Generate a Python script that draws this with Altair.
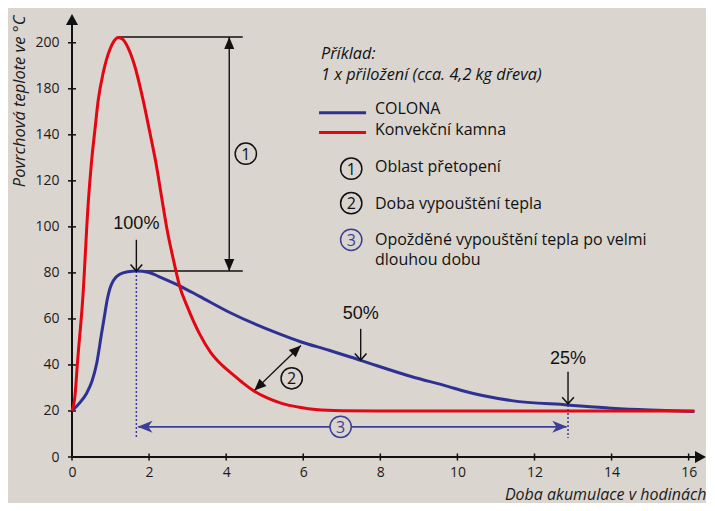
import altair as alt
import pandas as pd

# ---------------- colours / fonts ----------------
BG = "#dad5cf"
BLUE = "#2e3192"
RED = "#e30613"
ABLUE = "#3d3f94"
INK = "#111111"
FONT = "Open Sans"

# ---------------- data ----------------
# y is in the drawn (positional) units; the original axis labels 160/180 read "180"/"200"
red_x = [0, 0.08, 0.14, 0.28, 0.42, 0.50, 0.60, 0.68, 0.81, 0.90, 0.98, 1.08, 1.20, 1.32, 1.45,
         1.63, 1.84, 2.02, 2.19, 2.33, 2.47, 2.62, 2.79, 3.00, 3.31, 3.60, 3.90, 4.17, 4.45,
         4.73, 5.05, 5.46, 5.90, 6.32, 7.00, 8.00, 10.00, 12.00, 14.00, 16.15]
red_y = [20, 27, 40.6, 69, 110, 127, 143, 155, 167, 173, 177, 180.5, 182.3, 181.5, 178,
         169.8, 155.5, 141, 126.7, 112.4, 98.5, 86.6, 74.4, 65, 53.5, 45.4, 39.8, 35.9, 32.0,
         28.6, 25.8, 23.2, 21.6, 20.6, 20.1, 20, 20, 20, 20, 20]

blue_x = [0, 0.20, 0.38, 0.52, 0.64, 0.77, 0.84, 0.91, 0.98, 1.08, 1.24, 1.45, 1.67, 2.00, 2.27,
          2.79, 3.31, 4.08, 5.38, 5.93, 6.67, 7.49, 8.82, 9.77, 10.11, 11.41, 12.87, 14.00, 15.00,
          16.15]
blue_y = [20, 23.5, 27.7, 33, 40.6, 54, 61, 68, 73, 76.8, 79.4, 80.5, 80.8, 80.2, 78.3,
          74.4, 69.8, 62.9, 53.5, 50.1, 46.4, 42.0, 34.9, 30.6, 28.9, 24.5, 22.6, 21.2, 20.4,
          19.8]

x_ticks = [0, 2, 4, 6, 8, 10, 12, 14, 16]
y_ticks = [0, 20, 40, 60, 80, 100, 120, 140, 160, 180]

series_names = ["COLONA", "Konvekční kamna"]
series_colors = [BLUE, RED]

X_MAX = 16.45
Y_MAX = 192.5

# annotation geometry (data units)
black_rules = pd.DataFrame({
    "x":  [1.20, 1.67, 4.08, 1.67, 7.49, 12.87, 4.73],
    "y":  [182.5, 80.8, 80.8, 94.4, 55.7, 37.0, 28.85],
    "x2": [4.43, 4.43, 4.08, 1.67, 7.49, 12.87, 5.94],
    "y2": [182.5, 80.8, 182.5, 80.8, 42.1, 23.1, 48.5],
})
axis_rules = pd.DataFrame({"x": [0, 0], "y": [0, 0], "x2": [X_MAX - 0.1, 0], "y2": [0, Y_MAX - 1]})
dotted_rules = pd.DataFrame({"x": [1.67, 12.87], "y": [80.8, 22.6], "x2": [1.67, 12.87], "y2": [8.3, 8.3]})
blue_arrow = pd.DataFrame({"x": [1.72], "y": [13.1], "x2": [12.83], "y2": [13.1]})

filled_heads = pd.DataFrame({"x": [4.08, 4.08, 5.94, 4.73], "y": [182.5, 80.8, 48.5, 28.85],
                             "angle": [0, 180, 46, 226]})
axis_heads = pd.DataFrame({"x": [0, X_MAX], "y": [Y_MAX, 0], "angle": [0, 90]})
open_heads = pd.DataFrame({"x": [1.67, 7.49, 12.87], "y": [80.8, 42.1, 23.1], "angle": [0, 0, 0]})
barb_heads = pd.DataFrame({"x": [1.70, 12.85], "y": [13.1, 13.1], "angle": [270, 90]})

circles = pd.DataFrame({
    "x": [4.51, 5.70, 6.97, 7.245, 7.245, 7.245],
    "y": [131.8, 34.2, 13.1, 125.3, 110.3, 94.4],
    "num": ["1", "2", "3", "1", "2", "3"],
    "col": [INK, INK, ABLUE, INK, INK, ABLUE],
})

pct = pd.DataFrame({"x": [1.67, 7.49, 12.87], "y": [101.4, 62.1, 42.8], "t": ["100%", "50%", "25%"]})

note = pd.DataFrame({"x": [6.46, 6.46], "y": [175.0, 166.2],
                     "t": ["Příklad:", "1 x přiložení (cca. 4,2 kg dřeva)"]})

legend_lines = pd.DataFrame({"x": [6.41, 6.41], "x2": [7.63, 7.63], "y": [149.6, 141.0],
                             "series": series_names})
legend_text = pd.DataFrame({"x": [7.86, 7.86], "y": [151.2, 142.2], "t": series_names})

key_text = pd.DataFrame({
    "x": [7.86, 7.86, 7.86, 7.86],
    "y": [126.0, 110.0, 94.2, 85.6],
    "t": ["Oblast přetopení", "Doba vypouštění tepla",
          "Opožděné vypouštění tepla po velmi", "dlouhou dobu"],
})

curves = pd.DataFrame({
    "x": blue_x + red_x,
    "y": blue_y + red_y,
    "series": [series_names[0]] * len(blue_x) + [series_names[1]] * len(red_x),
})

# ---------------- scales / axes ----------------
x_scale = alt.Scale(domain=[0, X_MAX], nice=False, zero=False)
y_scale = alt.Scale(domain=[0, Y_MAX], nice=False, zero=False)

x_axis = alt.Axis(values=x_ticks, domain=False, ticks=False, grid=False, labelFlush=False,
                  labelFont=FONT, labelFontSize=14, labelColor="#1a1a1a", labelPadding=8,
                  title="Doba akumulace v hodinách", titleFont=FONT, titleFontSize=16,
                  titleFontStyle="italic", titleFontWeight="normal", titleColor="#1a1a1a",
                  titleX=634, titleY=42, titleAlign="right", titleBaseline="alphabetic")
y_axis = alt.Axis(values=y_ticks, domain=False, ticks=False, grid=False, labelFlush=False,
                  labelExpr="datum.value == 160 ? '180' : (datum.value == 180 ? '200' : datum.label)",
                  labelFont=FONT, labelFontSize=14, labelColor="#1a1a1a", labelPadding=13,
                  title="Povrchová teplote ve °C", titleFont=FONT, titleFontSize=16.5,
                  titleFontStyle="italic", titleFontWeight="normal", titleColor="#1a1a1a",
                  titleAngle=270, titleX=-53, titleY=1, titleAlign="right", titleBaseline="middle")


def X(f="x"):
    return alt.X(f + ":Q", scale=x_scale, axis=x_axis)


def Y(f="y"):
    return alt.Y(f + ":Q", scale=y_scale, axis=y_axis)


color_scale = alt.Scale(domain=series_names, range=series_colors)

UP_TRI = "M0,0L-0.42,1L0.42,1Z"
AXIS_TRI = "M0,0L-0.55,1L0.55,1Z"
BARB = "M0,0L-0.4,1L0,0.72L0.4,1Z"
VHEAD = "M-0.9,-1L0,0L0.9,-1"

layers = []

# dotted blue guides
layers.append(alt.Chart(dotted_rules).mark_rule(color=ABLUE, strokeWidth=1.5, strokeDash=[2, 2])
              .encode(x=X(), y=Y(), x2="x2:Q", y2="y2:Q"))
# black annotation lines
layers.append(alt.Chart(black_rules).mark_rule(color=INK, strokeWidth=1.4)
              .encode(x=X(), y=Y(), x2="x2:Q", y2="y2:Q"))
# axis lines
layers.append(alt.Chart(axis_rules).mark_rule(color=INK, strokeWidth=2)
              .encode(x=X(), y=Y(), x2="x2:Q", y2="y2:Q"))
# ticks (crossing the axes)
layers.append(alt.Chart(pd.DataFrame({"x": x_ticks, "y": [0] * len(x_ticks)}))
              .mark_tick(orient="vertical", size=7, thickness=1.5, color=INK, opacity=1)
              .encode(x=X(), y=Y()))
layers.append(alt.Chart(pd.DataFrame({"x": [0] * len(y_ticks), "y": y_ticks}))
              .mark_tick(orient="horizontal", size=8, thickness=1.5, color=INK, opacity=1)
              .encode(x=X(), y=Y()))
# curves
for name in series_names:
    layers.append(alt.Chart(curves[curves.series == name])
                  .mark_line(strokeWidth=3, interpolate="monotone")
                  .encode(x=X(), y=Y(), color=alt.Color("series:N", scale=color_scale, legend=None)))
# blue horizontal arrow line
layers.append(alt.Chart(blue_arrow).mark_rule(color=ABLUE, strokeWidth=1.6)
              .encode(x=X(), y=Y(), x2="x2:Q", y2="y2:Q"))
# arrow heads
layers.append(alt.Chart(filled_heads).mark_point(shape=UP_TRI, size=576, filled=True, color=INK,
                                                 opacity=1, strokeWidth=0)
              .encode(x=X(), y=Y(), angle=alt.Angle("angle:Q", scale=None)))
layers.append(alt.Chart(axis_heads).mark_point(shape=AXIS_TRI, size=484, filled=True, color=INK,
                                               opacity=1, strokeWidth=0)
              .encode(x=X(), y=Y(), angle=alt.Angle("angle:Q", scale=None)))
layers.append(alt.Chart(barb_heads).mark_point(shape=BARB, size=900, filled=True, color=ABLUE,
                                               opacity=1, strokeWidth=0)
              .encode(x=X(), y=Y(), angle=alt.Angle("angle:Q", scale=None)))
layers.append(alt.Chart(open_heads).mark_point(shape=VHEAD, size=169, filled=False, color=INK,
                                               opacity=1, strokeWidth=1.5)
              .encode(x=X(), y=Y(), angle=alt.Angle("angle:Q", scale=None)))
# numbered circles
layers.append(alt.Chart(circles).mark_point(shape="circle", size=452, filled=True, fill=BG,
                                            opacity=1, strokeWidth=1.5)
              .encode(x=X(), y=Y(), stroke=alt.Stroke("col:N", scale=None)))
layers.append(alt.Chart(circles).mark_text(font=FONT, fontSize=16, baseline="middle", align="center", dy=1)
              .encode(x=X(), y=Y(), text="num:N", color=alt.Color("col:N", scale=None)))
# legend lines and labels
layers.append(alt.Chart(legend_lines).mark_rule(strokeWidth=3)
              .encode(x=X(), y=Y(), x2="x2:Q",
                      color=alt.Color("series:N", scale=color_scale, legend=None)))
layers.append(alt.Chart(legend_text).mark_text(font=FONT, fontSize=16, align="left", baseline="middle",
                                               color=INK)
              .encode(x=X(), y=Y(), text="t:N"))
layers.append(alt.Chart(key_text).mark_text(font=FONT, fontSize=16, align="left", baseline="middle",
                                            color=INK)
              .encode(x=X(), y=Y(), text="t:N"))
layers.append(alt.Chart(note).mark_text(font=FONT, fontSize=16.3, fontStyle="italic", align="left",
                                        baseline="middle", color=INK)
              .encode(x=X(), y=Y(), text="t:N"))
layers.append(alt.Chart(pct).mark_text(font="Liberation Sans", fontSize=18, align="center",
                                       baseline="middle", color=INK)
              .encode(x=X(), y=Y(), text="t:N"))

chart = (
    alt.layer(*layers)
    .properties(width=634, height=443, background=BG,
                padding={"left": 64, "top": 6, "right": 0, "bottom": 46},
                autosize=alt.AutoSizeParams(type="none"))
    .configure_view(stroke=None)
)

chart.save("out.html", embed_options={"renderer": "svg", "actions": False})
